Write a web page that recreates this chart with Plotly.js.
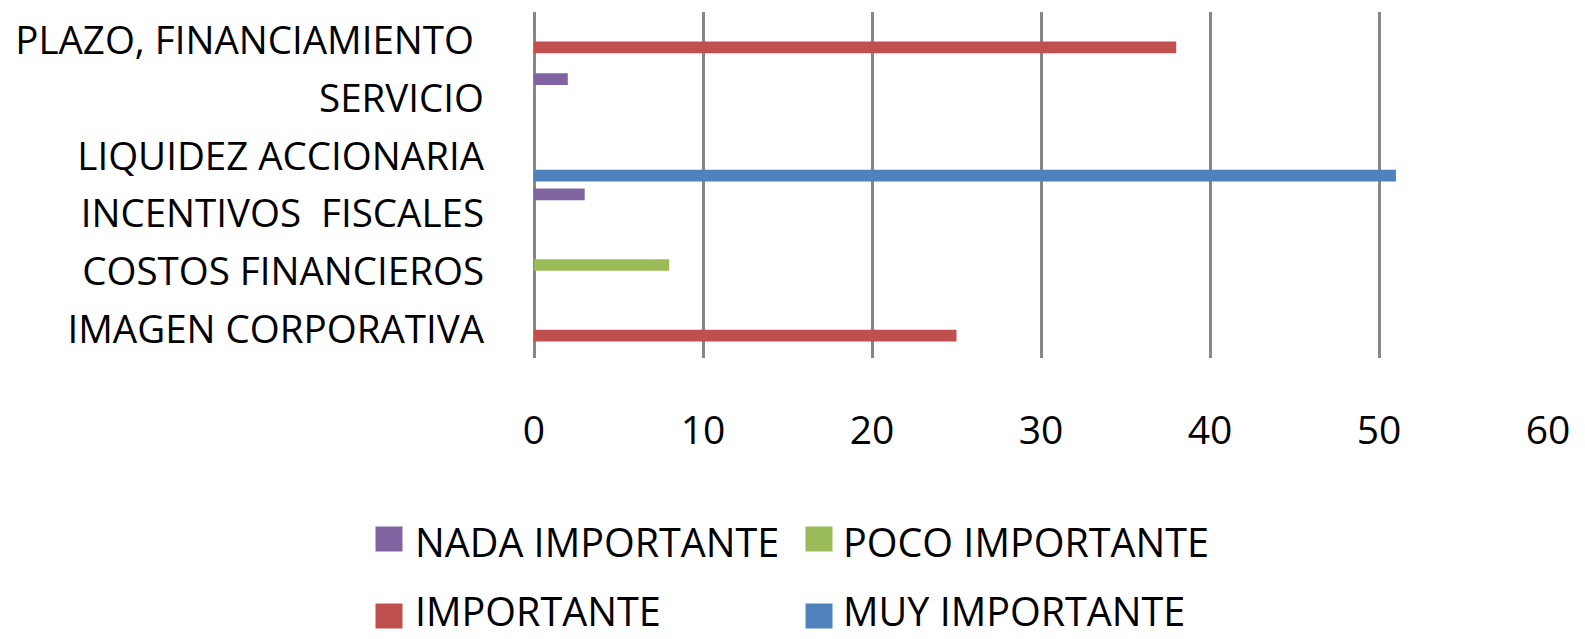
<!DOCTYPE html>
<html>
<head>
<meta charset="utf-8">
<script src="https://cdn.plot.ly/plotly-3.0.1.min.js"></script>
<style>
  html, body { margin: 0; padding: 0; background: #ffffff; }
  #chart { width: 1585px; height: 639px; }
</style>
</head>
<body>
<div id="chart"></div>
<script>
// Categories, listed bottom to top as they appear on the y axis
const categories = [
  'IMAGEN CORPORATIVA',
  'COSTOS FINANCIEROS',
  'INCENTIVOS\u00a0 FISCALES',
  'LIQUIDEZ ACCIONARIA',
  'SERVICIO',
  'PLAZO, FINANCIAMIENTO\u00a0'
];

// Series values per category (null = no answer in that group)
const muyImportante  = [null, null, null, 51, null, null];
const importante     = [25, null, null, null, null, 38];
const pocoImportante = [null, 8, null, null, null, null];
const nadaImportante = [null, null, 3, null, 2, null];

const seriesNames = ['MUY IMPORTANTE', 'IMPORTANTE', 'POCO IMPORTANTE', 'NADA IMPORTANTE'];
const xTickValues = [0, 10, 20, 30, 40, 50, 60];

// Styling
const seriesColors = ['#4F81BD', '#C0504D', '#9BBB59', '#8064A2'];
const FONT = '"Open Sans", "Noto Sans", sans-serif';
const W = 1585, H = 639;
const M = { l: 534, r: 37, t: 12, b: 281 };
const plotW = W - M.l - M.r, plotH = H - M.t - M.b;
const px2x = px => (px - M.l) / plotW;
const px2y = py => (H - M.b - py) / plotH;

const seriesValues = [muyImportante, importante, pocoImportante, nadaImportante];

const traces = seriesValues.map((vals, i) => ({
  type: 'bar',
  orientation: 'h',
  name: seriesNames[i],
  y: categories,
  x: vals,
  marker: { color: seriesColors[i], line: { width: 0 } },
  hoverinfo: 'x+name',
  showlegend: false
}));

// Legend drawn as a 2x2 block below the axis (index into the series arrays)
const legendGrid = [
  { s: 3, col: 0, row: 0 },
  { s: 2, col: 1, row: 0 },
  { s: 1, col: 0, row: 1 },
  { s: 0, col: 1, row: 1 }
];
const colSwatch = [375.5, 805.5];
const colText = [413, 841];
const rowMid = [539, 616];
const rowTextMid = [542, 611];
const swW = 27, swH = 25;

const shapes = legendGrid.map(g => ({
  type: 'rect', xref: 'paper', yref: 'paper',
  x0: px2x(colSwatch[g.col]), x1: px2x(colSwatch[g.col] + swW),
  y0: px2y(rowMid[g.row] + swH / 2), y1: px2y(rowMid[g.row] - swH / 2),
  fillcolor: seriesColors[g.s], line: { width: 0 }, layer: 'above'
}));

const annotations = legendGrid.map(g => ({
  xref: 'paper', yref: 'paper',
  x: px2x(colText[g.col]), y: px2y(rowTextMid[g.row]),
  xanchor: 'left', yanchor: 'middle',
  text: seriesNames[g.s], showarrow: false,
  font: { family: FONT, size: 39.5, color: '#000000' }
}));

const layout = {
  width: W, height: H,
  margin: M,
  paper_bgcolor: '#ffffff',
  plot_bgcolor: '#ffffff',
  barmode: 'group',
  bargap: 0.1,
  bargroupgap: 0.1,
  showlegend: false,
  font: { family: FONT, color: '#000000' },
  xaxis: {
    range: [0, 60],
    tickvals: xTickValues,
    ticks: '',
    showgrid: true,
    gridcolor: '#878787',
    gridwidth: 3,
    zeroline: true,
    zerolinecolor: '#878787',
    zerolinewidth: 3,
    showline: false,
    tickfont: { family: FONT, size: 39, color: '#000000' },
    ticklabelstandoff: 46,
    fixedrange: true
  },
  yaxis: {
    type: 'category',
    categoryorder: 'array',
    categoryarray: categories,
    ticks: '',
    showgrid: false,
    zeroline: false,
    showline: false,
    tickfont: { family: FONT, size: 38.5, color: '#000000' },
    ticklabelstandoff: 49,
    fixedrange: true
  },
  shapes: shapes,
  annotations: annotations
};

Plotly.newPlot('chart', traces, layout, { displayModeBar: false, staticPlot: true });
</script>
</body>
</html>
